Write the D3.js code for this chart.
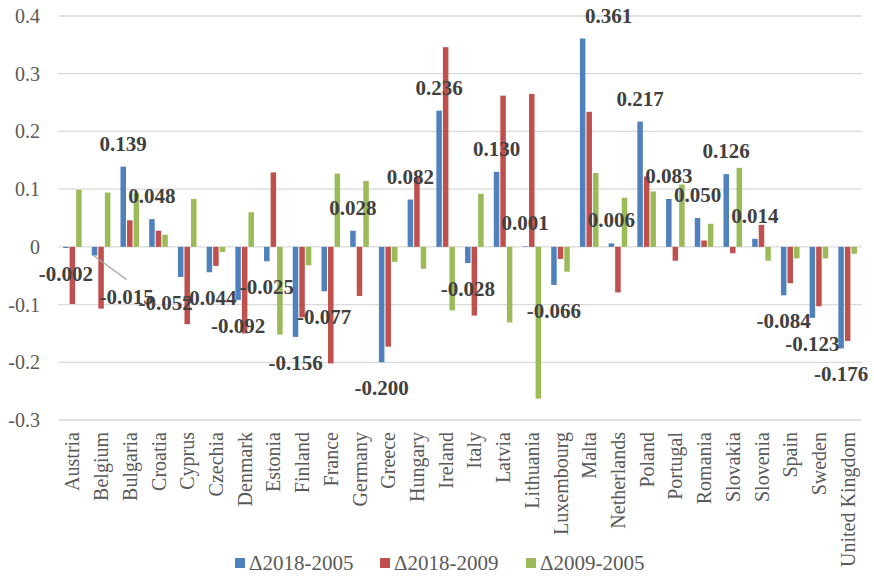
<!DOCTYPE html>
<html>
<head>
<meta charset="utf-8">
<script src="https://cdn.jsdelivr.net/npm/d3@7"></script>
<style>
  html, body { margin: 0; padding: 0; background: #ffffff; }
  svg { display: block; }
  svg text { font-family: "Liberation Serif", "Times New Roman", Tinos, "DejaVu Serif", serif; }
</style>
</head>
<body>
<svg id="chart" width="874" height="577"></svg>
<script>
// ---- data ----
const countries = ["Austria","Belgium","Bulgaria","Croatia","Cyprus","Czechia","Denmark","Estonia","Finland","France","Germany","Greece","Hungary","Ireland","Italy","Latvia","Lithuania","Luxembourg","Malta","Netherlands","Poland","Portugal","Romania","Slovakia","Slovenia","Spain","Sweden","United Kingdom"];
const seriesNames = ["Δ2018-2005","Δ2018-2009","Δ2009-2005"];
const d2018_2005 = [-0.002,-0.015,0.139,0.048,-0.052,-0.044,-0.092,-0.025,-0.156,-0.077,0.028,-0.200,0.082,0.236,-0.028,0.130,0.001,-0.066,0.361,0.006,0.217,0.083,0.050,0.126,0.014,-0.084,-0.123,-0.176];
const d2018_2009 = [-0.099,-0.107,0.046,0.028,-0.134,-0.033,-0.150,0.129,-0.122,-0.202,-0.085,-0.173,0.121,0.346,-0.119,0.262,0.265,-0.021,0.234,-0.079,0.122,-0.024,0.011,-0.011,0.038,-0.063,-0.103,-0.163];
const d2009_2005 = [0.099,0.094,0.093,0.021,0.083,-0.009,0.060,-0.152,-0.032,0.127,0.114,-0.026,-0.038,-0.110,0.092,-0.131,-0.263,-0.043,0.128,0.085,0.096,0.108,0.040,0.137,-0.024,-0.020,-0.020,-0.012];
const yTicks = [0.4,0.3,0.2,0.1,0,-0.1,-0.2,-0.3];
const yTickLabels = ["0.4","0.3","0.2","0.1","0","-0.1","-0.2","-0.3"];

// ---- layout / style ----
const colors = ["#4f81bd","#c0504d","#9bbb59"];
const labelNudge = { "Belgium": [32, 15], "Cyprus": [-15, 0], "Malta": [26, 0] };

const seriesData = [d2018_2005, d2018_2009, d2009_2005];
const svg = d3.select("#chart");

const x0 = d3.scaleBand().domain(countries).range([58, 862]).paddingInner(0).paddingOuter(0);
const bw = x0.bandwidth();
const groupW = 18.6;
const x1 = d3.scaleBand().domain(d3.range(3)).range([(bw - groupW) / 2, (bw + groupW) / 2]).paddingInner(0.16).paddingOuter(0);
const y = d3.scaleLinear().domain([-0.3, 0.4]).range([420, 16]);

// gridlines
svg.append("g").selectAll("line").data(yTicks).join("line")
  .attr("x1", 58).attr("x2", 862)
  .attr("y1", d => y(d)).attr("y2", d => y(d))
  .attr("stroke", "#d9d9d9").attr("stroke-width", 1.3);

// y tick labels
svg.append("g").selectAll("text").data(yTicks).join("text")
  .attr("x", 40).attr("y", d => y(d))
  .attr("dy", "0.35em")
  .attr("text-anchor", "end")
  .attr("font-size", 20)
  .attr("fill", "#595959")
  .text((d, i) => yTickLabels[i]);

// bars
const groups = svg.append("g").selectAll("g").data(countries).join("g")
  .attr("transform", d => `translate(${x0(d)},0)`);
groups.selectAll("rect")
  .data((c, ci) => seriesData.map((s, si) => ({ si, v: s[ci] })))
  .join("rect")
  .attr("x", d => x1(d.si))
  .attr("width", x1.bandwidth())
  .attr("y", d => y(Math.max(0, d.v)))
  .attr("height", d => Math.abs(y(d.v) - y(0)))
  .attr("fill", d => colors[d.si]);

// leader line for Belgium label
{
  const ci = countries.indexOf("Belgium");
  const bx = x0("Belgium") + x1(0) + x1.bandwidth() / 2;
  const by = y(d2018_2005[ci]);
  svg.append("line")
    .attr("x1", bx - 1).attr("y1", by)
    .attr("x2", bx + 32).attr("y2", by + 24)
    .attr("stroke", "#a6a6a6").attr("stroke-width", 1.3);
}

// data labels for first series
svg.append("g").selectAll("text").data(countries).join("text")
  .attr("x", (c, i) => x0(c) + x1(0) + x1.bandwidth() / 2 + (labelNudge[c] ? labelNudge[c][0] : 0))
  .attr("y", (c, i) => {
    const v = d2018_2005[i];
    const base = v >= 0 ? y(v) - 16 : y(v) + 33;
    return base + (labelNudge[c] ? labelNudge[c][1] : 0);
  })
  .attr("text-anchor", "middle")
  .attr("font-size", 21).attr("font-weight", "bold")
  .attr("fill", "#404040")
  .text((c, i) => d3.format(".3f")(d2018_2005[i]).replace("−", "-"));

// category labels
svg.append("g").selectAll("text").data(countries).join("text")
  .attr("transform", c => `translate(${x0(c) + bw / 2},432) rotate(-90)`)
  .attr("dy", "0.35em")
  .attr("text-anchor", "end")
  .attr("font-size", 20)
  .attr("fill", "#595959")
  .text(c => c);

// legend
const legendX = [235, 380, 526];
const leg = svg.append("g").selectAll("g").data(seriesNames).join("g")
  .attr("transform", (d, i) => `translate(${legendX[i]},0)`);
leg.append("rect").attr("x", 0).attr("y", 558).attr("width", 10).attr("height", 10)
  .attr("fill", (d, i) => colors[i]);
leg.append("text").attr("x", 14).attr("y", 570)
  .attr("font-size", 21)
  .attr("fill", "#595959")
  .text(d => d);
</script>
</body>
</html>
